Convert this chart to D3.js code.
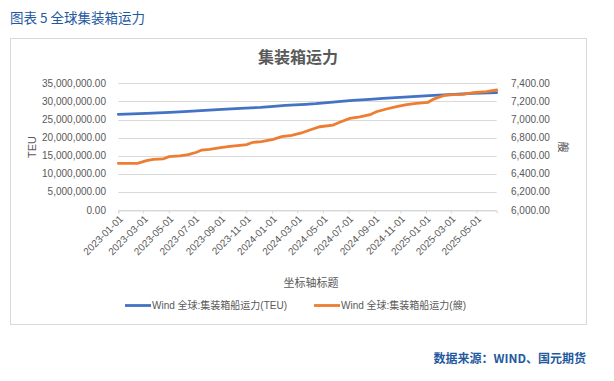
<!DOCTYPE html>
<html><head><meta charset="utf-8">
<script src="https://cdn.jsdelivr.net/npm/d3@7"></script>
<style>
body{margin:0;background:#fff;}
svg text{font-family:"Liberation Sans","Noto Sans CJK SC",sans-serif;}
</style></head>
<body><svg id="c" width="614" height="381"></svg>
<script>
// ---- data ----
const teuDates = ["2023-01-01","2023-03-09","2023-05-04","2023-06-16","2023-07-26","2023-09-04","2023-10-18","2023-12-05","2024-01-05","2024-02-02","2024-03-21","2024-04-14","2024-05-12","2024-06-13","2024-07-11","2024-08-20","2024-09-21","2024-10-31","2024-12-10","2025-01-19","2025-03-08","2025-04-21","2025-06-18"];
const teuValues = [26430000,26710000,26980000,27260000,27540000,27810000,28090000,28370000,28640000,28920000,29190000,29360000,29640000,30020000,30300000,30580000,30850000,31130000,31400000,31680000,31960000,32230000,32450000];
const shipDates = ["2023-01-01","2023-02-16","2023-03-09","2023-03-25","2023-04-18","2023-05-01","2023-05-27","2023-06-16","2023-07-06","2023-07-18","2023-08-06","2023-09-01","2023-09-23","2023-10-17","2023-11-02","2023-11-17","2023-12-07","2024-01-04","2024-01-24","2024-02-17","2024-03-11","2024-03-31","2024-04-24","2024-05-25","2024-06-10","2024-07-04","2024-07-28","2024-08-21","2024-09-05","2024-09-29","2024-10-23","2024-11-16","2024-12-09","2025-01-06","2025-01-18","2025-02-11","2025-03-06","2025-03-30","2025-04-23","2025-05-25","2025-06-18"];
const shipValues = [6516,6516,6545,6560,6564,6589,6597,6611,6638,6663,6671,6688,6704,6715,6722,6748,6755,6781,6810,6825,6851,6884,6920,6939,6969,7013,7028,7053,7086,7116,7141,7164,7179,7190,7223,7263,7274,7278,7296,7307,7326];
const leftTicks = [0,5000000,10000000,15000000,20000000,25000000,30000000,35000000];
const rightTicks = [6000,6200,6400,6600,6800,7000,7200,7400];
const seriesNames = ["Wind 全球:集装箱船运力(TEU)","Wind 全球:集装箱船运力(艘)"];
const colors = ["#4472C4","#ED7D31"];

const parse = d3.utcParse("%Y-%m-%d");
const svg = d3.select("#c");
const gray = "#595959";

// header
svg.append("text").attr("x",10).attr("y",23).attr("font-size",13.5).attr("fill","#1f5aa0")
  .style("font-family","'Noto Sans CJK SC',sans-serif").text("图表 5  全球集装箱运力");
// box
svg.append("rect").attr("x",10.5).attr("y",38.5).attr("width",576).attr("height",286)
  .attr("fill","none").attr("stroke","#d9d9d9").attr("stroke-width",1);
// title
svg.append("text").attr("x",298).attr("y",63).attr("text-anchor","middle").attr("font-size",16)
  .attr("font-weight","bold").attr("fill",gray).style("font-family","'Noto Sans CJK SC',sans-serif").text("集装箱运力");

const x = d3.scaleUtc().domain([parse("2023-01-01"), parse("2025-06-18")]).range([118.3, 496.7]);
const yL = d3.scaleLinear().domain([0,35000000]).range([210,83.3]);
const yR = d3.scaleLinear().domain([6000,7400]).range([210,83.3]);

// gridlines
svg.append("g").selectAll("line").data(leftTicks).join("line")
  .attr("x1",x.range()[0]).attr("x2",x.range()[1])
  .attr("y1",d=>Math.round(yL(d))+0.5).attr("y2",d=>Math.round(yL(d))+0.5)
  .attr("stroke","#d9d9d9").attr("stroke-width",1);

// left axis labels
const fmtL = d3.format(",.2f");
svg.append("g").selectAll("text").data(leftTicks).join("text")
  .attr("x",106).attr("y",d=>yL(d)).attr("dy","0.35em").attr("text-anchor","end")
  .attr("font-size",10).attr("fill",gray).text(d=>fmtL(d));
// right axis labels
svg.append("g").selectAll("text").data(rightTicks).join("text")
  .attr("x",511).attr("y",d=>yR(d)).attr("dy","0.35em").attr("text-anchor","start")
  .attr("font-size",10).attr("fill",gray).text(d=>fmtL(d));

// axis titles
svg.append("text").attr("transform","translate(36,147) rotate(-90)").attr("text-anchor","middle")
  .attr("font-size",11).attr("fill",gray).text("TEU");
svg.append("text").attr("transform","translate(559,147) rotate(90)").attr("text-anchor","middle")
  .attr("font-size",11).attr("fill",gray).style("font-family","'Noto Sans CJK SC',sans-serif").text("艘");

// x axis
const xTicks = d3.utcMonth.every(2).range(parse("2023-01-01"), parse("2025-05-02"));
const xg = svg.append("g").attr("transform","translate(0,210.5)");
const xAxis = d3.axisBottom(x).tickValues(xTicks).tickSize(3).tickFormat("");
xg.call(xAxis);
xg.select(".domain").attr("stroke","#d9d9d9");
xg.selectAll(".tick line").attr("stroke","#d9d9d9");
const fmtX = d3.utcFormat("%Y-%m-%d");
svg.append("g").selectAll("text").data(xTicks).join("text")
  .attr("transform",d=>`translate(${x(d)+3},217) rotate(-45)`)
  .attr("text-anchor","end").attr("dy","0.35em").attr("font-size",10).attr("fill",gray)
  .text(d=>fmtX(d));
svg.append("text").attr("x",311).attr("y",287).attr("text-anchor","middle").attr("font-size",11)
  .attr("fill",gray).style("font-family","'Noto Sans CJK SC',sans-serif").text("坐标轴标题");

// lines
const teu = teuDates.map((d,i)=>({d:parse(d),v:teuValues[i]}));
const ship = shipDates.map((d,i)=>({d:parse(d),v:shipValues[i]}));
svg.append("path").datum(teu).attr("fill","none").attr("stroke",colors[0]).attr("stroke-width",2.8)
  .attr("stroke-linecap","round").attr("d",d3.line().x(p=>x(p.d)).y(p=>yL(p.v)));
svg.append("path").datum(ship).attr("fill","none").attr("stroke",colors[1]).attr("stroke-width",2.8)
  .attr("stroke-linecap","round").attr("d",d3.line().x(p=>x(p.d)).y(p=>yR(p.v)));

// legend
const legX = [125,314];
seriesNames.forEach((n,i)=>{
  svg.append("line").attr("x1",legX[i]).attr("x2",legX[i]+26).attr("y1",305.5).attr("y2",305.5)
    .attr("stroke",colors[i]).attr("stroke-width",2.8);
  svg.append("text").attr("x",legX[i]+27).attr("y",305.5).attr("dy","0.35em").attr("font-size",10)
    .attr("fill",gray).text(n);
});

// source
svg.append("text").attr("x",586).attr("y",363).attr("text-anchor","end").attr("font-size",12)
  .attr("font-weight","bold").attr("fill","#1f5aa0").style("font-family","'Noto Sans CJK SC',sans-serif")
  .text("数据来源：WIND、国元期货");
</script></body></html>
